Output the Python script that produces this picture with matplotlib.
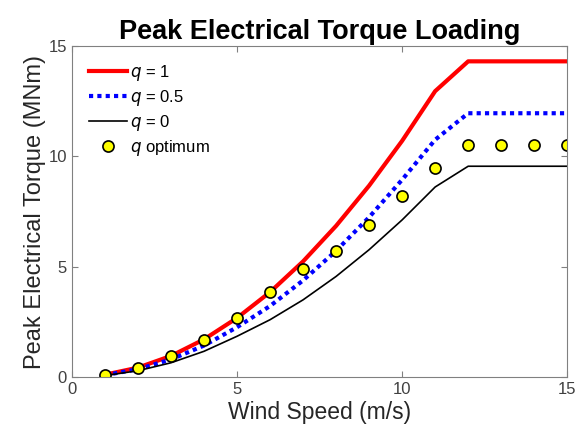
import matplotlib
matplotlib.use("Agg")
import matplotlib.pyplot as plt

plt.rcParams['font.family'] = ['Liberation Sans', 'DejaVu Sans']

wind = [1, 2, 3, 4, 5, 6, 7, 8, 9, 10, 11, 12, 13, 14, 15]
q1 = [0.11, 0.43, 0.96, 1.71, 2.68, 3.85, 5.24, 6.85, 8.67, 10.7, 12.95, 14.3, 14.3, 14.3, 14.3]
q05 = [0.09, 0.36, 0.80, 1.43, 2.26, 3.22, 4.38, 5.72, 7.24, 8.94, 10.75, 11.95, 11.95, 11.95, 11.95]
q0 = [0.07, 0.29, 0.65, 1.17, 1.85, 2.6, 3.5, 4.56, 5.77, 7.12, 8.61, 9.55, 9.55, 9.55, 9.55]
qopt = [0.1, 0.42, 0.97, 1.7, 2.68, 3.85, 4.9, 5.7, 6.9, 8.2, 9.45, 10.5, 10.5, 10.5, 10.5]

fig = plt.figure(figsize=(5.8, 4.37), dpi=100)
ax = fig.add_axes([0.124, 0.137, 0.854, 0.758])

ax.plot(wind, q1, color='red', lw=3, label='$q$ = 1')
ax.plot(wind, q05, color='blue', lw=3, ls=(0, (1, 1)), label='$q$ = 0.5')
ax.plot(wind, q0, color='black', lw=1.2, label='$q$ = 0')
ax.plot(wind, qopt, ls='none', marker='o', ms=8, mfc='yellow', mec='black', mew=1.2, label='$q$ optimum')

ax.set_xlim(0, 15)
ax.set_ylim(0, 15)
ax.set_xticks([0, 5, 10, 15])
ax.set_yticks([0, 5, 10, 15])
ax.tick_params(direction='in', top=True, right=True, labelsize=12, labelcolor='#404040', color='#808080', length=4)
for s in ax.spines.values():
    s.set_color('#808080')
ax.set_xlabel('Wind Speed (m/s)', fontsize=16.5, color='#262626', labelpad=3)
ax.set_ylabel('Peak Electrical Torque (MNm)', fontsize=17, color='#262626', labelpad=2)
ax.set_title('Peak Electrical Torque Loading', fontsize=19.5, fontweight='bold', pad=5)
ax.legend(loc='upper left', frameon=False, fontsize=12, handlelength=2.3, handletextpad=0.2, labelspacing=0.3, borderaxespad=0.6)

fig.savefig('out.png', dpi=100)
